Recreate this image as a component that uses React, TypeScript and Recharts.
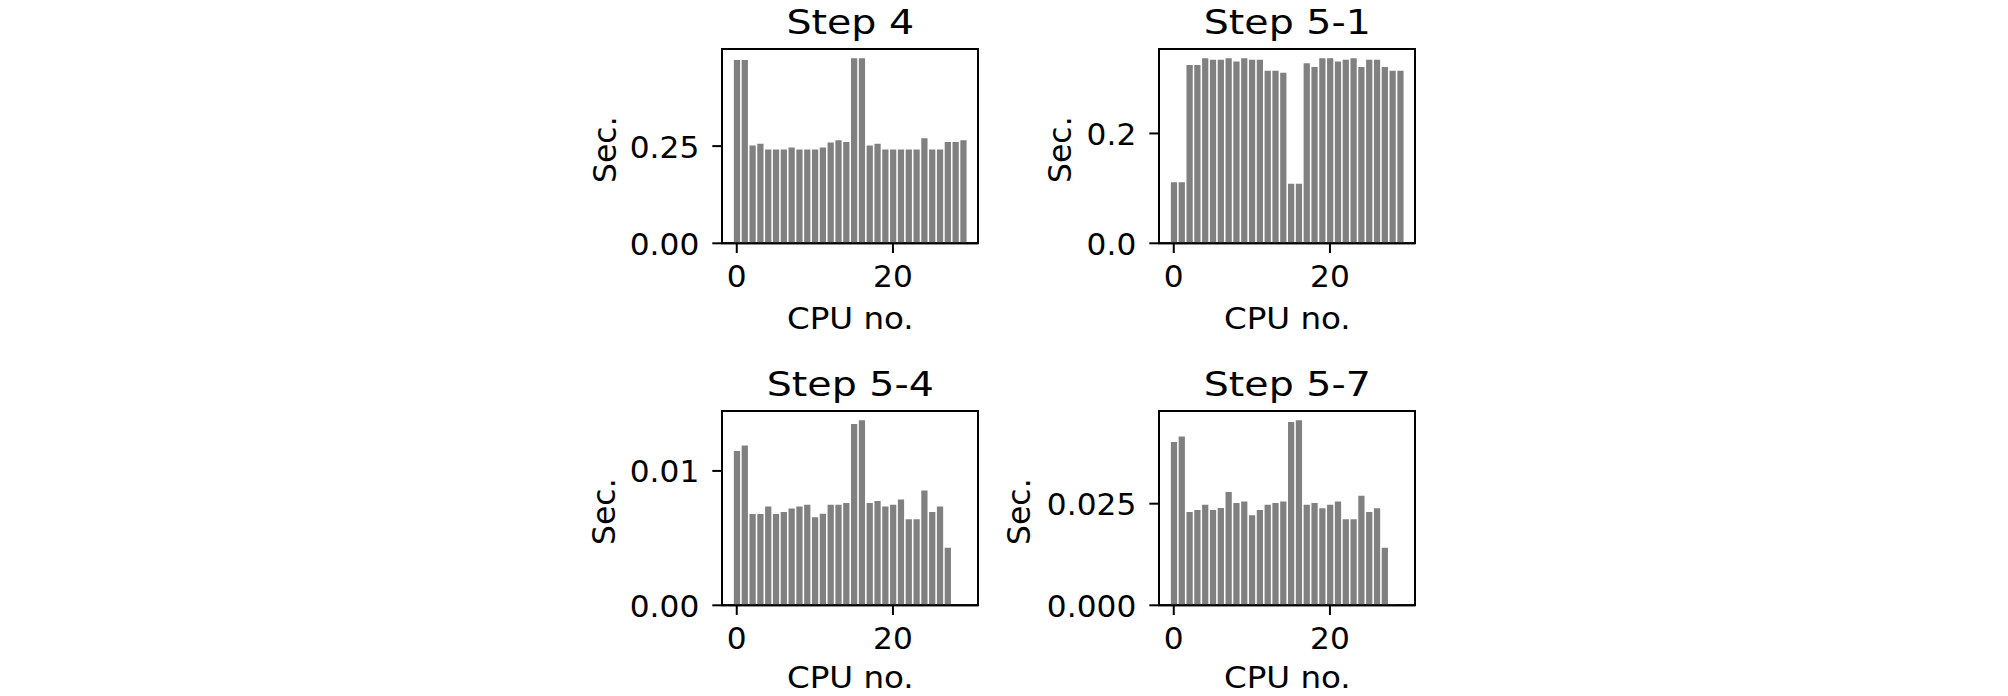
import React from 'react';
import { BarChart, Bar, XAxis, YAxis, ReferenceArea } from 'recharts';

// ---------- data ----------
const cpuNumbers = [0, 1, 2, 3, 4, 5, 6, 7, 8, 9, 10, 11, 12, 13, 14, 15, 16, 17, 18, 19, 20, 21, 22, 23, 24, 25, 26, 27, 28, 29];

const step4Sec = [
  0.4718, 0.4718, 0.2518, 0.2562, 0.2415, 0.2415, 0.2415, 0.2466, 0.2415, 0.2415,
  0.2415, 0.2466, 0.2596, 0.2648, 0.2604, 0.476, 0.476, 0.2518, 0.2562, 0.2415,
  0.2415, 0.2415, 0.2415, 0.2415, 0.27, 0.2415, 0.2415, 0.2604, 0.2604, 0.2648,
];

const step51Sec = [
  0.1112, 0.1112, 0.3248, 0.3248, 0.3369, 0.334, 0.334, 0.3369, 0.3308, 0.3369,
  0.334, 0.334, 0.3143, 0.3143, 0.3106, 0.1083, 0.1083, 0.3277, 0.3211, 0.3369,
  0.3369, 0.3308, 0.334, 0.3369, 0.3211, 0.334, 0.334, 0.3211, 0.3143, 0.3143,
];

const step54Sec = [
  0.01148, 0.0119, 0.0068, 0.0068, 0.00736, 0.0068, 0.00695, 0.00721, 0.00736, 0.00749,
  0.00655, 0.00682, 0.00749, 0.00749, 0.00761, 0.0135, 0.01377, 0.00761, 0.00776, 0.00736,
  0.00749, 0.00788, 0.0064, 0.0064, 0.00854, 0.00695, 0.00736, 0.00429, 0, 0,
];

const step57Sec = [
  0.0402, 0.04155, 0.02297, 0.02346, 0.02476, 0.02346, 0.02395, 0.02786, 0.02517, 0.02556,
  0.02214, 0.02346, 0.02476, 0.02517, 0.02556, 0.04511, 0.04553, 0.02476, 0.02517, 0.02385,
  0.02476, 0.02556, 0.02116, 0.02116, 0.02695, 0.02297, 0.02385, 0.01417, 0.0003, 0,
];

const panelTitles = ['Step 4', 'Step 5-1', 'Step 5-4', 'Step 5-7'];
const xTicks = [0, 20];
const xTickLabels = ['0', '20'];
const step4YTicks = [0, 0.25];
const step4YLabels = ['0.00', '0.25'];
const step51YTicks = [0, 0.2];
const step51YLabels = ['0.0', '0.2'];
const step54YTicks = [0, 0.01];
const step54YLabels = ['0.00', '0.01'];
const step57YTicks = [0, 0.025];
const step57YLabels = ['0.000', '0.025'];
const xAxisLabel = 'CPU no.';
const yAxisLabel = 'Sec.';

// ---------- layout / style ----------
const FONT = 'DejaVu Sans';
const TICK_FS = 29.5;
const TICK_SX = 1.06;
const XLABEL_FS = 31;
const XLABEL_SX = 1.05;
const YLABEL_FS = 31.5;
const TITLE_FS = 33.5;
const TITLE_SX = 1.18;
const PLOT_W = 256;
const PLOT_H = 194.3;
const TICK_LEN = 9.7;
const YW = 150;
const XH = 60;
const MT = 10;
const MR = 10;
const PAGE_H = 696;

const layout = [
  { left: 722.3, top: 49, yLabelX: 616.5 },
  { left: 1159.3, top: 49, yLabelX: 1071.5 },
  { left: 722.3, top: 411, yLabelX: 615 },
  { left: 1159.3, top: 411, yLabelX: 1030 },
];

const lineStyle = { stroke: '#000', strokeWidth: 2 };

function XTick(props: any) {
  const { x, y, payload } = props;
  const idx = xTicks.indexOf(payload.value);
  const label = idx >= 0 ? xTickLabels[idx] : String(payload.value);
  return (
    <text
      transform={`translate(${x},${y}) scale(${TICK_SX},1)`}
      x={0}
      y={34.3}
      textAnchor="middle"
      fontFamily={FONT}
      fontSize={TICK_FS}
      fill="#000"
    >
      {label}
    </text>
  );
}

function makeYTick(ticks: number[], labels: string[]) {
  return function YTick(props: any) {
    const { x, y, payload } = props;
    const idx = ticks.indexOf(payload.value);
    const label = idx >= 0 ? labels[idx] : String(payload.value);
    return (
      <text
        transform={`translate(${x - 13},${y}) scale(${TICK_SX},1)`}
        x={0}
        y={11.5}
        textAnchor="end"
        fontFamily={FONT}
        fontSize={TICK_FS}
        fill="#000"
      >
        {label}
      </text>
    );
  };
}

type PanelProps = {
  values: number[];
  yTicks: number[];
  yLabels: string[];
  pos: { left: number; top: number };
};

function Panel({ values, yTicks, yLabels, pos }: PanelProps) {
  const data = cpuNumbers.map((cpu, i) => ({ cpu, sec: values[i] }));
  const xMin = cpuNumbers[0] - 0.4;
  const xMax = cpuNumbers[cpuNumbers.length - 1] + 0.4;
  const xPad = (xMax - xMin) * 0.05;
  const xDomain: [number, number] = [xMin - xPad, xMax + xPad];
  const yMax = Math.max(...values) * 1.05;
  const barSize = (0.8 * PLOT_W) / (xDomain[1] - xDomain[0]);
  const YTick = makeYTick(yTicks, yLabels);
  return (
    <div style={{ position: 'absolute', left: pos.left - YW, top: pos.top - MT }}>
      <BarChart
        width={YW + PLOT_W + MR}
        height={MT + PLOT_H + XH}
        data={data}
        margin={{ top: MT, right: MR, bottom: 0, left: 0 }}
      >
        <XAxis
          xAxisId="b"
          dataKey="cpu"
          type="number"
          domain={xDomain}
          allowDataOverflow
          ticks={xTicks}
          interval={0}
          height={XH}
          tickSize={TICK_LEN}
          tickMargin={0}
          tick={<XTick />}
          tickLine={lineStyle}
          axisLine={lineStyle}
        />
        <YAxis
          yAxisId="l"
          type="number"
          domain={[0, yMax]}
          allowDataOverflow
          ticks={yTicks}
          interval={0}
          width={YW}
          tickSize={TICK_LEN}
          tickMargin={0}
          tick={<YTick />}
          tickLine={lineStyle}
          axisLine={lineStyle}
        />
        <Bar
          xAxisId="b"
          yAxisId="l"
          dataKey="sec"
          fill="#808080"
          barSize={barSize}
          isAnimationActive={false}
        />
        <ReferenceArea
          xAxisId="b"
          yAxisId="l"
          x1={xDomain[0]}
          x2={xDomain[1]}
          y1={0}
          y2={yMax}
          fill="none"
          fillOpacity={0}
          stroke="#000"
          strokeWidth={2}
          strokeOpacity={1}
          ifOverflow="visible"
        />
      </BarChart>
    </div>
  );
}

export default function App() {
  const series = [step4Sec, step51Sec, step54Sec, step57Sec];
  const ticks = [step4YTicks, step51YTicks, step54YTicks, step57YTicks];
  const labels = [step4YLabels, step51YLabels, step54YLabels, step57YLabels];
  return (
    <div style={{ position: 'absolute', left: 0, top: 0, width: 2008, height: PAGE_H, background: '#fff', overflow: 'hidden' }}>
      {series.map((vals, i) => (
        <Panel key={i} values={vals} yTicks={ticks[i]} yLabels={labels[i]} pos={layout[i]} />
      ))}
      <svg width={2008} height={PAGE_H} style={{ position: 'absolute', left: 0, top: 0, pointerEvents: 'none' }}>
        {layout.map((p, i) => {
          const cx = p.left + PLOT_W / 2;
          const cy = p.top + PLOT_H / 2 + 3.5;
          const bottom = p.top + PLOT_H;
          const xLabelY = Math.min(bottom + 85.5, PAGE_H - 8.5);
          return (
            <g key={i} fontFamily={FONT} fill="#000">
              <text
                transform={`translate(${cx},${p.top - 15.5}) scale(${TITLE_SX},1)`}
                textAnchor="middle"
                fontSize={TITLE_FS}
              >
                {panelTitles[i]}
              </text>
              <text
                transform={`translate(${cx},${xLabelY}) scale(${XLABEL_SX},1)`}
                textAnchor="middle"
                fontSize={XLABEL_FS}
              >
                {xAxisLabel}
              </text>
              <text
                x={p.yLabelX}
                y={cy}
                textAnchor="middle"
                fontSize={YLABEL_FS}
                transform={`rotate(-90 ${p.yLabelX} ${cy})`}
              >
                {yAxisLabel}
              </text>
            </g>
          );
        })}
      </svg>
    </div>
  );
}
